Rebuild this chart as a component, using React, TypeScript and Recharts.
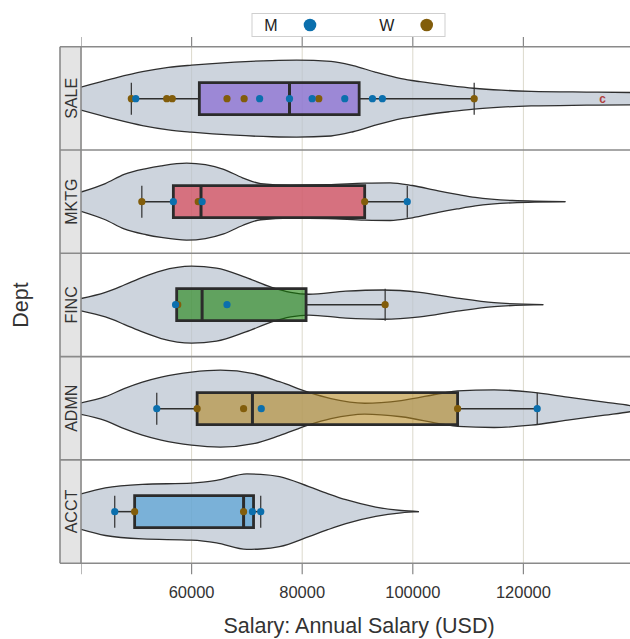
import React from 'react';
import {
  ComposedChart,
  Area,
  Scatter,
  XAxis,
  YAxis,
  CartesianGrid,
  ReferenceArea,
  ReferenceLine,
} from 'recharts';

// ---------------- data ----------------
const DEPTS = ['SALE', 'MKTG', 'FINC', 'ADMN', 'ACCT'];
const X_DOMAIN: [number, number] = [40000, 140000];
const X_TICKS = [40000, 60000, 80000, 100000, 120000, 140000];
const X_LABELED = [60000, 80000, 100000, 120000];
const LEGEND_LABELS = ['M', 'W'];
const X_TITLE = 'Salary: Annual Salary (USD)';
const Y_TITLE = 'Dept';

// violin profiles: [salary, relative density half-width]
const SALE_VIOLIN: [number, number][] = [
  [40000, 0.3], [45750, 0.52], [51100, 0.7], [55800, 0.81], [60000, 0.87],
  [67800, 0.95], [74500, 0.99], [79000, 1.0], [85200, 0.97], [89200, 0.86],
  [93200, 0.69], [97900, 0.52], [101300, 0.44], [106600, 0.34], [111000, 0.27],
  [116000, 0.22], [121400, 0.19], [131400, 0.17], [139300, 0.16], [143000, 0.12],
  [147000, 0.05], [150000, 0],
];
const MKTG_VIOLIN: [number, number][] = [
  [40000, 0.25], [44400, 0.47], [47800, 0.71], [51800, 0.86], [54500, 0.93],
  [59100, 1.0], [62500, 0.96], [65800, 0.84], [69200, 0.62], [72500, 0.47],
  [77900, 0.43], [84600, 0.44], [91300, 0.48], [95900, 0.49], [99900, 0.42],
  [104600, 0.28], [108000, 0.19], [111300, 0.11], [118000, 0.03], [127600, 0],
];
const FINC_VIOLIN: [number, number][] = [
  [40000, 0.16], [44400, 0.32], [47800, 0.51], [51100, 0.71], [54500, 0.88],
  [60000, 1.0], [64500, 0.95], [69800, 0.71], [74500, 0.45], [77900, 0.32],
  [81200, 0.27], [87900, 0.35], [94600, 0.38], [101300, 0.32], [108000, 0.17],
  [114700, 0.05], [123600, 0],
];
const ADMN_VIOLIN: [number, number][] = [
  [40000, 0.15], [44400, 0.31], [47800, 0.52], [51100, 0.69], [54500, 0.82],
  [60000, 0.95], [65200, 1.0], [71200, 0.91], [75900, 0.7], [81200, 0.42],
  [85200, 0.26], [91300, 0.14], [97900, 0.21], [105300, 0.4], [108100, 0.46],
  [114700, 0.49], [121400, 0.43], [128000, 0.3], [134700, 0.17], [139300, 0.08],
  [142800, 0],
];
const ACCT_VIOLIN: [number, number][] = [
  [40000, 0.46], [44400, 0.62], [51100, 0.71], [60000, 0.74], [64500, 0.81],
  [70000, 0.98], [72500, 0.97], [75900, 0.91], [81200, 0.65], [84600, 0.47],
  [87900, 0.31], [93300, 0.12], [97900, 0.03], [101100, 0],
];

// individual salaries by gender
const SALE_M = [49900, 72300, 77700, 81800, 87700, 92700, 94500];
const SALE_W = [49100, 55500, 56500, 66400, 69500, 83000, 111100];
const MKTG_M = [56700, 61900, 99000];
const MKTG_W = [51000, 61200, 91300];
const FINC_M = [57100, 66400];
const FINC_W = [57500, 95000];
const ADMN_M = [53700, 72600, 122500];
const ADMN_W = [61000, 69400, 108100];
const ACCT_M = [46100, 71000, 72500];
const ACCT_W = [49700, 69400];

// outliers (labelled)
const SALE_OUT = [134300];
const OUT_LABEL = 'c';

// box stats: [whiskerLow, q1, median, q3, whiskerHigh]
const SALE_BOX = [49100, 61400, 77700, 90300, 111100];
const MKTG_BOX = [51000, 56700, 61700, 91300, 99000];
const FINC_BOX = [57300, 57300, 61900, 80700, 95000];
const ADMN_BOX = [53700, 61000, 71000, 108100, 122500];
const ACCT_BOX = [46100, 49700, 69400, 71200, 72500];

// ---------------- style ----------------
const FONT = '"Liberation Sans", Arial, sans-serif';
const PLOT_LEFT = 81;
const PLOT_W = 553;
const PANEL_TOP = 46.7;
const PANEL_H = 103.3;
const STRIP_LEFT = 60;
const Y_HALF = 1.342;
const BOX_HALF = 0.416;
const COLOR_M = '#0B6FAD';
const COLOR_W = '#825D0B';
const BOX_COLORS = ['#7850D2', '#DE2739', '#0F7D00', '#B2841B', '#3B97D5'];
const BORDER = '#8a8a8a';

const PANELS = [
  { violin: SALE_VIOLIN, m: SALE_M, w: SALE_W, box: SALE_BOX, out: SALE_OUT },
  { violin: MKTG_VIOLIN, m: MKTG_M, w: MKTG_W, box: MKTG_BOX, out: [] as number[] },
  { violin: FINC_VIOLIN, m: FINC_M, w: FINC_W, box: FINC_BOX, out: [] as number[] },
  { violin: ADMN_VIOLIN, m: ADMN_M, w: ADMN_W, box: ADMN_BOX, out: [] as number[] },
  { violin: ACCT_VIOLIN, m: ACCT_M, w: ACCT_W, box: ACCT_BOX, out: [] as number[] },
];

const dot = (color: string) => (p: any) =>
  <circle cx={p.cx} cy={p.cy} r={3.6} fill={color} stroke="none" />;

const outlierShape = (p: any) => (
  <text x={p.cx} y={p.cy} dy="0.35em" textAnchor="middle" fill="#B0413E"
    fontSize={12} fontWeight="bold" fontFamily={FONT}>{OUT_LABEL}</text>
);

function Panel({ i }: { i: number }) {
  const P = PANELS[i];
  const data = P.violin.map(([s, w]) => ({ s, range: [-w, w] }));
  const axis = i === 0 ? 'top' : i === PANELS.length - 1 ? 'bottom' : null;
  const axisH = axis === 'top' ? 10 : axis === 'bottom' ? 60 : 0;
  const panelTop = PANEL_TOP + i * PANEL_H;
  const chartTop = axis === 'top' ? panelTop - axisH : panelTop;
  const [lo, q1, med, q3, hi] = P.box;
  const mData = P.m.map((s) => ({ s, y: 0 }));
  const wData = P.w.map((s) => ({ s, y: 0 }));
  const oData = P.out.map((s) => ({ s, y: 0 }));
  const line = { stroke: '#2f2f2f', strokeWidth: 1.5 };
  return (
    <div style={{ position: 'absolute', left: PLOT_LEFT, top: chartTop }}>
      <ComposedChart width={PLOT_W} height={PANEL_H + axisH} data={data}
        margin={{ top: 0, right: 0, bottom: 0, left: 0 }}>
        <CartesianGrid horizontal={false} stroke="#DCD9CC" strokeWidth={1} />
        <XAxis dataKey="s" type="number" domain={X_DOMAIN} ticks={X_TICKS}
          allowDataOverflow interval={0}
          hide={!axis} orientation={axis === 'top' ? 'top' : 'bottom'}
          height={axisH || undefined} axisLine={false}
          tickLine={{ stroke: '#888', strokeWidth: 1.2 }}
          tickSize={axis === 'top' ? 10 : 11} tickMargin={12}
          tickFormatter={(v: number) => (axis === 'bottom' && X_LABELED.includes(v) ? String(v) : '')}
          tick={{ fontSize: 16.5, fill: '#333', fontFamily: FONT }} />
        <YAxis type="number" domain={[-Y_HALF, Y_HALF]} allowDataOverflow hide />
        <Area type="monotone" dataKey="range" stroke="#2f2f2f" strokeWidth={1.3}
          fill="#B8C2CE" fillOpacity={0.7} isAnimationActive={false}
          dot={false} activeDot={false} />
        <ReferenceArea x1={q1} x2={q3} y1={-BOX_HALF} y2={BOX_HALF}
          fill={BOX_COLORS[i]} fillOpacity={0.57} stroke="#2b2b2b" strokeWidth={2.8} />
        <ReferenceLine segment={[{ x: lo, y: 0 }, { x: q1, y: 0 }]} {...line} />
        <ReferenceLine segment={[{ x: q3, y: 0 }, { x: hi, y: 0 }]} {...line} />
        <ReferenceLine segment={[{ x: lo, y: -BOX_HALF }, { x: lo, y: BOX_HALF }]} stroke="#2f2f2f" strokeWidth={1.2} />
        <ReferenceLine segment={[{ x: hi, y: -BOX_HALF }, { x: hi, y: BOX_HALF }]} stroke="#2f2f2f" strokeWidth={1.2} />
        <ReferenceLine segment={[{ x: med, y: -BOX_HALF }, { x: med, y: BOX_HALF }]} stroke="#2b2b2b" strokeWidth={3} />
        <Scatter data={wData} dataKey="y" shape={dot(COLOR_W)} isAnimationActive={false} />
        <Scatter data={mData} dataKey="y" shape={dot(COLOR_M)} isAnimationActive={false} />
        {oData.length > 0 && (
          <Scatter data={oData} dataKey="y" shape={outlierShape} isAnimationActive={false} />
        )}
      </ComposedChart>
    </div>
  );
}

export default function App() {
  const bottom = PANEL_TOP + DEPTS.length * PANEL_H;
  return (
    <div style={{ position: 'absolute', left: 0, top: 0, width: 630, height: 639,
      overflow: 'hidden', background: '#fff', fontFamily: FONT }}>
      {PANELS.map((_, i) => <Panel key={i} i={i} />)}
      <svg width={630} height={639} style={{ position: 'absolute', left: 0, top: 0, pointerEvents: 'none' }}>
        {DEPTS.map((d, i) => {
          const t = PANEL_TOP + i * PANEL_H;
          return (
            <g key={d}>
              <rect x={STRIP_LEFT} y={t} width={PLOT_LEFT - STRIP_LEFT} height={PANEL_H} fill="#E4E4E4" />
              <text transform={`translate(${(STRIP_LEFT + PLOT_LEFT) / 2 + 0.5},${t + PANEL_H / 2}) rotate(-90)`}
                textAnchor="middle" dy="0.36em" fontSize={16} fill="#333" fontFamily={FONT}>{d}</text>
            </g>
          );
        })}
        {DEPTS.concat(['']).map((_, k) => (
          <line key={k} x1={STRIP_LEFT} x2={630} y1={PANEL_TOP + k * PANEL_H} y2={PANEL_TOP + k * PANEL_H}
            stroke={BORDER} strokeWidth={1.6} />
        ))}
        <line x1={STRIP_LEFT} x2={STRIP_LEFT} y1={PANEL_TOP} y2={bottom} stroke={BORDER} strokeWidth={1.6} />
        <line x1={PLOT_LEFT} x2={PLOT_LEFT} y1={PANEL_TOP} y2={bottom} stroke={BORDER} strokeWidth={1.6} />
        <text transform={`translate(20,${(PANEL_TOP + bottom) / 2}) rotate(-90)`} textAnchor="middle"
          dy="0.36em" fontSize={21.5} fill="#333" fontFamily={FONT}>{Y_TITLE}</text>
        <text x={359} y={625.5} textAnchor="middle" dy="0.36em" fontSize={21.5} fill="#333" fontFamily={FONT}>{X_TITLE}</text>
        <rect x={252} y={13.5} width={193} height={23} fill="#fff" stroke="#cfcfcf" strokeWidth={1} />
        <text x={271} y={25} textAnchor="middle" dy="0.36em" fontSize={16} fill="#222" fontFamily={FONT}>{LEGEND_LABELS[0]}</text>
        <circle cx={310} cy={25} r={6.3} fill={COLOR_M} />
        <text x={386.7} y={25} textAnchor="middle" dy="0.36em" fontSize={16} fill="#222" fontFamily={FONT}>{LEGEND_LABELS[1]}</text>
        <circle cx={426.7} cy={25} r={6.3} fill={COLOR_W} />
      </svg>
    </div>
  );
}
